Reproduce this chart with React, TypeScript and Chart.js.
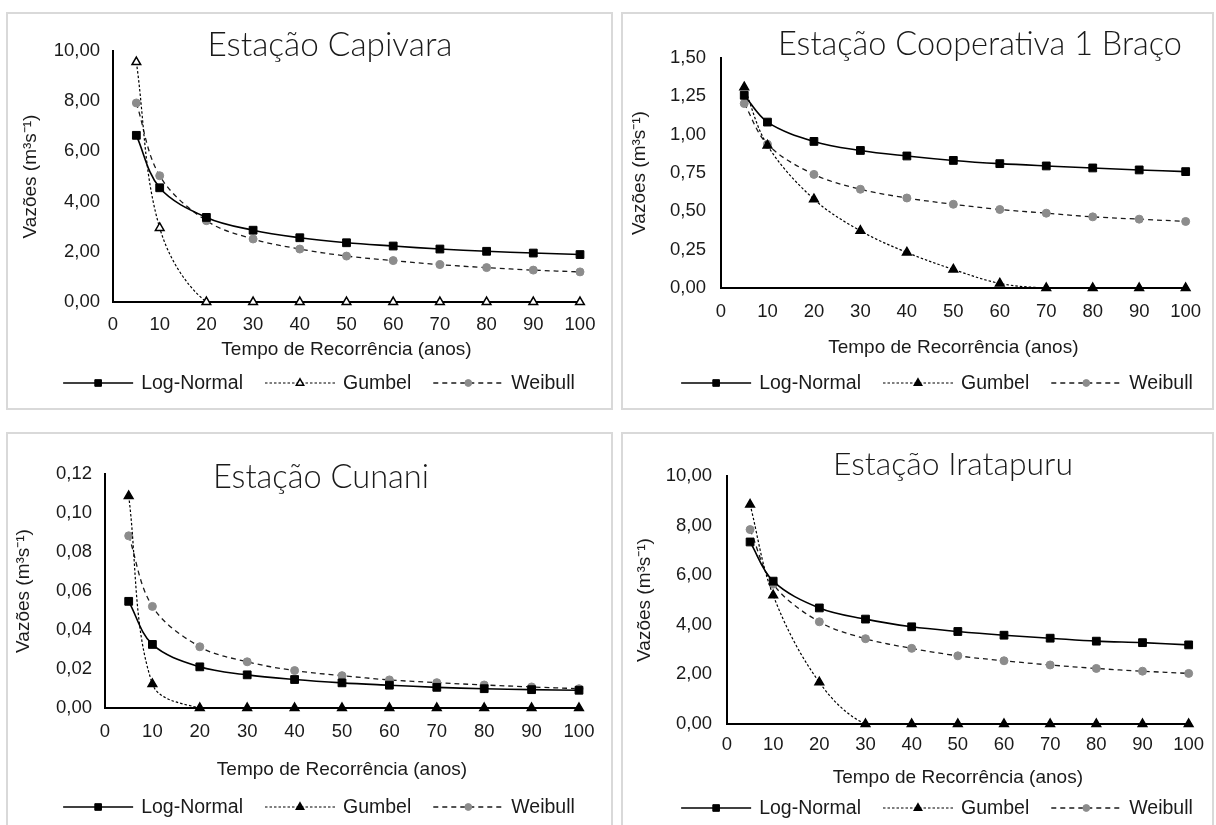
import React, { useEffect, useRef } from "react";
import { Chart, registerables } from "chart.js";

Chart.register(...registerables);

// ---------- DATA ----------
const years = [5, 10, 20, 30, 40, 50, 60, 70, 80, 90, 100];
const seriesNames = ["Log-Normal", "Gumbel", "Weibull"];

const capivaraLogNormal = [6.64, 4.55, 3.37, 2.86, 2.56, 2.36, 2.23, 2.11, 2.02, 1.95, 1.89];
const capivaraGumbel = [9.56, 2.95, 0, 0, 0, 0, 0, 0, 0, 0, 0];
const capivaraWeibull = [7.93, 5.03, 3.24, 2.51, 2.11, 1.83, 1.65, 1.49, 1.37, 1.27, 1.2];

const cooperativaLogNormal = [1.257, 1.082, 0.956, 0.897, 0.861, 0.832, 0.811, 0.796, 0.783, 0.77, 0.759];
const cooperativaGumbel = [1.31, 0.93, 0.579, 0.373, 0.232, 0.121, 0.03, 0, 0, 0, 0];
const cooperativaWeibull = [1.203, 0.937, 0.741, 0.644, 0.587, 0.546, 0.512, 0.488, 0.464, 0.449, 0.434];

const cunaniLogNormal = [0.0547, 0.0326, 0.0211, 0.017, 0.0146, 0.0129, 0.0117, 0.0106, 0.0099, 0.0094, 0.0091];
const cunaniGumbel = [0.1087, 0.0123, 0, 0, 0, 0, 0, 0, 0, 0, 0];
const cunaniWeibull = [0.0883, 0.0521, 0.0314, 0.0237, 0.0192, 0.0166, 0.0144, 0.013, 0.0118, 0.0108, 0.0099];

const iratapuruLogNormal = [7.34, 5.76, 4.68, 4.23, 3.92, 3.73, 3.58, 3.46, 3.34, 3.28, 3.19];
const iratapuruGumbel = [8.85, 5.19, 1.68, 0, 0, 0, 0, 0, 0, 0, 0];
const iratapuruWeibull = [7.84, 5.64, 4.12, 3.44, 3.05, 2.75, 2.55, 2.38, 2.24, 2.13, 2.04];

const xAxisTitle = "Tempo de Recorrência (anos)";
const yAxisTitle = "Vazões (m³s⁻¹)";

// ---------- LAYOUT / STYLE ----------
const FONT = '"Liberation Sans", Arial, sans-serif';
const TITLE_FONT = '"Lato", "Open Sans", sans-serif';
const TICK_SIZE = 18.5;
const AXT_SIZE = 19;
const LEG_SIZE = 19.5;
const TEXT_COLOR = "#1a1a1a";
const GREY = "#8c8c8c";

const panels = [
  {
    title: "Estação Capivara",
    series: [capivaraLogNormal, capivaraGumbel, capivaraWeibull],
    yMax: 10, yStep: 2,
    box: { x: 6, y: 12, w: 607, h: 398 },
    area: { l: 113, r: 580, t: 51, b: 302 },
    xTickY: 325, xTitleY: 350, legendY: 383, legendX: 319,
    titleX: 330, titleY: 45, titleW: 245, yTitleX: 31, yGap: 13, hollowTri: true,
  },
  {
    title: "Estação Cooperativa 1 Braço",
    series: [cooperativaLogNormal, cooperativaGumbel, cooperativaWeibull],
    yMax: 1.5, yStep: 0.25,
    box: { x: 621, y: 12, w: 593, h: 398 },
    area: { l: 721, r: 1193, t: 58, b: 288 },
    xTickY: 312, xTitleY: 348, legendY: 383, legendX: 937,
    titleX: 980, titleY: 45, titleW: 404, yTitleX: 640, yGap: 15, hollowTri: false,
  },
  {
    title: "Estação Cunani",
    series: [cunaniLogNormal, cunaniGumbel, cunaniWeibull],
    yMax: 0.12, yStep: 0.02,
    box: { x: 6, y: 432, w: 607, h: 398 },
    area: { l: 105, r: 579, t: 474, b: 708 },
    xTickY: 732, xTitleY: 770, legendY: 807, legendX: 319,
    titleX: 321, titleY: 477, titleW: 216, yTitleX: 24, yGap: 13, hollowTri: false,
  },
  {
    title: "Estação Iratapuru",
    series: [iratapuruLogNormal, iratapuruGumbel, iratapuruWeibull],
    yMax: 10, yStep: 2,
    box: { x: 621, y: 432, w: 593, h: 398 },
    area: { l: 727, r: 1192, t: 476, b: 724 },
    xTickY: 745, xTitleY: 778, legendY: 808, legendX: 937,
    titleX: 953, titleY: 465, titleW: 240, yTitleX: 645, yGap: 15, hollowTri: false,
  },
];

function drawMarker(ctx: CanvasRenderingContext2D, style: string, x: number, y: number, r: number, fill: string, stroke: string, bw: number) {
  ctx.save();
  ctx.setLineDash([]);
  ctx.fillStyle = fill;
  ctx.strokeStyle = stroke;
  ctx.lineWidth = bw;
  ctx.beginPath();
  if (style === "rect") {
    const s = Math.SQRT1_2 * r;
    ctx.rect(x - s, y - s, 2 * s, 2 * s);
  } else if (style === "triangle") {
    const rad = -Math.PI / 2;
    ctx.moveTo(x + Math.cos(rad) * r, y + Math.sin(rad) * r);
    ctx.lineTo(x + Math.cos(rad + (2 * Math.PI) / 3) * r, y + Math.sin(rad + (2 * Math.PI) / 3) * r);
    ctx.lineTo(x + Math.cos(rad + (4 * Math.PI) / 3) * r, y + Math.sin(rad + (4 * Math.PI) / 3) * r);
    ctx.closePath();
  } else {
    ctx.arc(x, y, r, 0, Math.PI * 2);
  }
  ctx.fill();
  if (bw > 0) ctx.stroke();
  ctx.restore();
}

function Panel({ p }: { p: any }) {
  const ref = useRef<HTMLCanvasElement | null>(null);

  useEffect(() => {
    if (!ref.current) return;
    const { box, area } = p;
    const fmt = (v: any) => Number(v).toFixed(2).replace(".", ",");
    const triFill = p.hollowTri ? "#ffffff" : "#000000";

    const styles = [
      { borderColor: "#000000", borderWidth: 1.6, borderDash: [], pointStyle: "rect", pointRadius: 5.5, pointBackgroundColor: "#000000", pointBorderColor: "#000000", pointBorderWidth: 1 },
      { borderColor: "#000000", borderWidth: 1.2, borderDash: [2.5, 2], pointStyle: "triangle", pointRadius: 5, pointBackgroundColor: triFill, pointBorderColor: "#000000", pointBorderWidth: 1.5 },
      { borderColor: "#1a1a1a", borderWidth: 1.3, borderDash: [5, 4], pointStyle: "circle", pointRadius: 4, pointBackgroundColor: GREY, pointBorderColor: GREY, pointBorderWidth: 1 },
    ];

    const datasets = seriesNames.map((name, i) => ({
      label: name,
      data: years.map((x, j) => ({ x, y: p.series[i][j] })),
      tension: 0.35,
      clip: 8,
      fill: false,
      ...styles[i],
    }));

    const tickLH = TICK_SIZE * 1.2;
    const axtLH = AXT_SIZE * 1.2;

    const deco = {
      id: "deco",
      afterDraw(chart: any) {
        const ctx: CanvasRenderingContext2D = chart.ctx;
        ctx.save();
        // Title
        ctx.font = `300 28px ${TITLE_FONT}`;
        const mw = ctx.measureText(p.title).width;
        const size = (28 * p.titleW) / mw;
        ctx.font = `300 ${size}px ${TITLE_FONT}`;
        ctx.fillStyle = "#1a1a1a";
        ctx.textAlign = "center";
        ctx.textBaseline = "middle";
        ctx.fillText(p.title, p.titleX - box.x, p.titleY - box.y);

        // Legend
        ctx.font = `${LEG_SIZE}px ${FONT}`;
        const sample = 70, gapText = 8, gapItem = 22;
        const ds = chart.data.datasets;
        const widths = ds.map((d: any) => sample + gapText + ctx.measureText(d.label).width);
        const total = widths.reduce((a: number, b: number) => a + b, 0) + gapItem * (ds.length - 1);
        let x = p.legendX - box.x - total / 2;
        const cy = p.legendY - box.y;
        ds.forEach((d: any, i: number) => {
          ctx.save();
          ctx.strokeStyle = d.borderColor;
          ctx.lineWidth = d.borderWidth;
          ctx.setLineDash(d.borderDash || []);
          ctx.beginPath();
          ctx.moveTo(x, cy);
          ctx.lineTo(x + sample, cy);
          ctx.stroke();
          ctx.restore();
          drawMarker(ctx, d.pointStyle, x + sample / 2, cy, d.pointRadius * 0.85, d.pointBackgroundColor, d.pointBorderColor, d.pointBorderWidth);
          ctx.fillStyle = TEXT_COLOR;
          ctx.textAlign = "left";
          ctx.textBaseline = "middle";
          ctx.fillText(d.label, x + sample + gapText, cy + 1);
          x += widths[i] + gapItem;
        });
        ctx.restore();
      },
    };

    const chart = new Chart(ref.current, {
      type: "line",
      data: { datasets: datasets as any },
      options: {
        responsive: false,
        animation: false,
        devicePixelRatio: 1,
        layout: {
          padding: { left: 0, top: area.t - box.y, right: box.x + box.w - area.r, bottom: 0 },
        },
        plugins: {
          legend: { display: false },
          title: { display: false },
          tooltip: { enabled: false },
        },
        scales: {
          x: {
            type: "linear",
            min: 0,
            max: 100,
            grid: { display: false, drawTicks: false },
            border: { display: true, color: "#000000", width: 2 },
            ticks: {
              stepSize: 10,
              autoSkip: false,
              maxRotation: 0,
              color: TEXT_COLOR,
              font: { family: FONT, size: TICK_SIZE },
              padding: p.xTickY - area.b - tickLH / 2,
            },
            title: {
              display: true,
              text: xAxisTitle,
              color: TEXT_COLOR,
              font: { family: FONT, size: AXT_SIZE },
              padding: { top: 0, bottom: box.y + box.h - p.xTitleY - axtLH / 2 },
            },
            afterFit: (s: any) => {
              s.height = box.y + box.h - area.b;
            },
          },
          y: {
            type: "linear",
            min: 0,
            max: p.yMax,
            grid: { display: false, drawTicks: false },
            border: { display: true, color: "#000000", width: 2 },
            ticks: {
              stepSize: p.yStep,
              color: TEXT_COLOR,
              font: { family: FONT, size: TICK_SIZE },
              padding: p.yGap,
              callback: (v: any) => fmt(v),
            },
            title: {
              display: true,
              text: yAxisTitle,
              color: TEXT_COLOR,
              font: { family: FONT, size: AXT_SIZE },
              padding: { top: p.yTitleX - box.x - axtLH / 2, bottom: 0 },
            },
            afterFit: (s: any) => {
              s.width = area.l - box.x;
            },
          },
        },
      } as any,
      plugins: [deco as any],
    });
    return () => chart.destroy();
  }, []);

  const { box } = p;
  return (
    <>
      <div
        style={{
          position: "absolute",
          left: box.x,
          top: box.y,
          width: box.w,
          height: box.h,
          border: "2px solid #d9d9d9",
          boxSizing: "border-box",
          background: "#ffffff",
        }}
      />
      <canvas
        ref={ref}
        width={box.w}
        height={box.h}
        style={{ position: "absolute", left: box.x, top: box.y, width: box.w, height: box.h }}
      />
    </>
  );
}

export default function App() {
  useEffect(() => {
    document.body.style.overflow = "hidden";
  }, []);
  return (
    <div
      style={{
        position: "absolute",
        left: 0,
        top: 0,
        width: 1216,
        height: 825,
        overflow: "hidden",
        background: "#ffffff",
      }}
    >
      {panels.map((p, i) => (
        <Panel key={i} p={p} />
      ))}
    </div>
  );
}
